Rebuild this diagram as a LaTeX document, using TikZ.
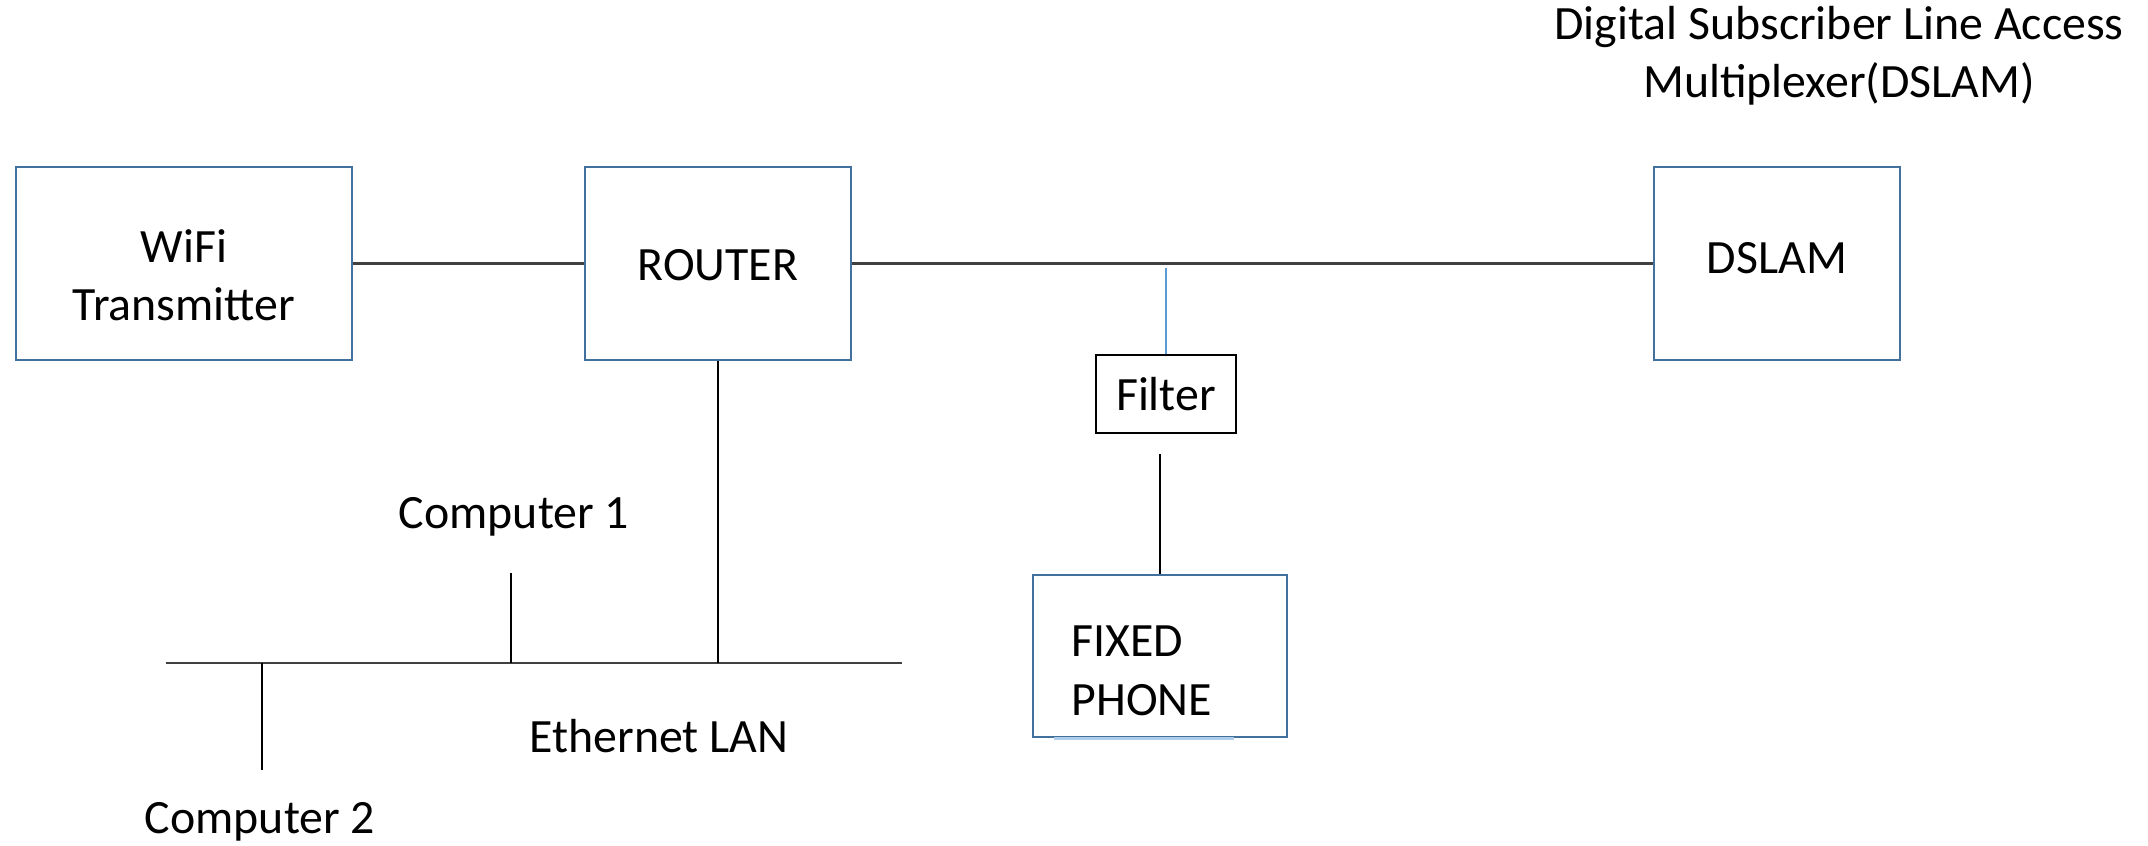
\documentclass[tikz,border=0pt]{standalone}
\usepackage{fontspec}
\setmainfont{Carlito}
\usetikzlibrary{positioning}

\definecolor{boxblue}{HTML}{41719C}
\definecolor{wiregray}{HTML}{404040}
\definecolor{tapblue}{HTML}{5B9BD5}

\newcommand{\lowertext}[2]{\raisebox{-#1}[\height][\depth]{#2}}

\begin{document}
\begin{tikzpicture}[x=0.01cm,y=-0.01cm,every node/.style={font=\fontsize{13.6}{16.4}\selectfont}]
  \tikzset{box/.style = {shape=rectangle,draw=boxblue,line width=0.75pt,inner sep=0pt,align=center}}
  \tikzset{smallbox/.style = {shape=rectangle,draw=black,line width=0.65pt,inner sep=0pt}}
  \tikzset{wire/.style = {draw=wiregray,line width=0.7pt}}
  \tikzset{drop/.style = {draw=black,line width=0.45pt}}
  \tikzset{lbl/.style = {align=center,inner sep=0pt}}

  \useasboundingbox (0,0) rectangle (2148,845);

	% boxes
	\node[box,minimum width=3.36cm,minimum height=1.93cm] (W) at (184,263.5)
		{\lowertext{4.7pt}{\begin{tabular}{@{}c@{}}WiFi\\Transmitter\end{tabular}}};
	\node[box,minimum width=2.66cm,minimum height=1.93cm] (R) at (718,263.5) {\lowertext{0.6pt}{ROUTER}};
	\node[box,minimum width=2.46cm,minimum height=1.93cm] (D) at (1777,263.5) {\raisebox{3pt}{DSLAM}};
	\node[smallbox,minimum width=1.40cm,minimum height=0.78cm] (F) at (1166,394) {Filter};
	\node[box,minimum width=2.54cm,minimum height=1.62cm] (P) at (1160,656)
		{\lowertext{5.2pt}{\begin{tabular}{@{}l@{}}FIXED\\[0.5pt]PHONE\end{tabular}}\hspace{0.36cm}};

	% text labels
	\node[lbl] (T) at (1839,56) {Digital Subscriber Line Access\\Multiplexer(DSLAM)};
	\node[lbl] (C1) at (514,517) {Computer 1};
	\node[lbl] (C2) at (260,822) {Computer 2};
	\node[lbl] (E) at (659,736) {Ethernet LAN};

	% LAN bus
	\coordinate (lanL) at (166,663);
	\coordinate (lanR) at (902,663);
	\coordinate (tap1) at (511,663);
	\coordinate (tap2) at (262,663);
	\coordinate (c1end) at (511,573);
	\coordinate (c2end) at (262,770);

	\foreach \from/\to in {W/R, R/D}
    \path[wire] (\from) -- (\to);
	\path[wire] (lanL) -- (lanR);

	\foreach \from/\to in {R.south/R.south |- lanR, tap1/c1end, tap2/c2end}
    \path[drop] (\from) -- (\to);

	\draw[tapblue,line width=0.35pt,shorten >=0.04cm] (F.north) -- (F.north |- R.east);
	\draw[drop,shorten >=0.2cm] (P.north) -- (P.north |- F.south);
	\draw[tapblue!50,line width=0.9pt] ([xshift=0.22cm]P.south west) -- ([xshift=-0.54cm]P.south east);
\end{tikzpicture}
\end{document}
